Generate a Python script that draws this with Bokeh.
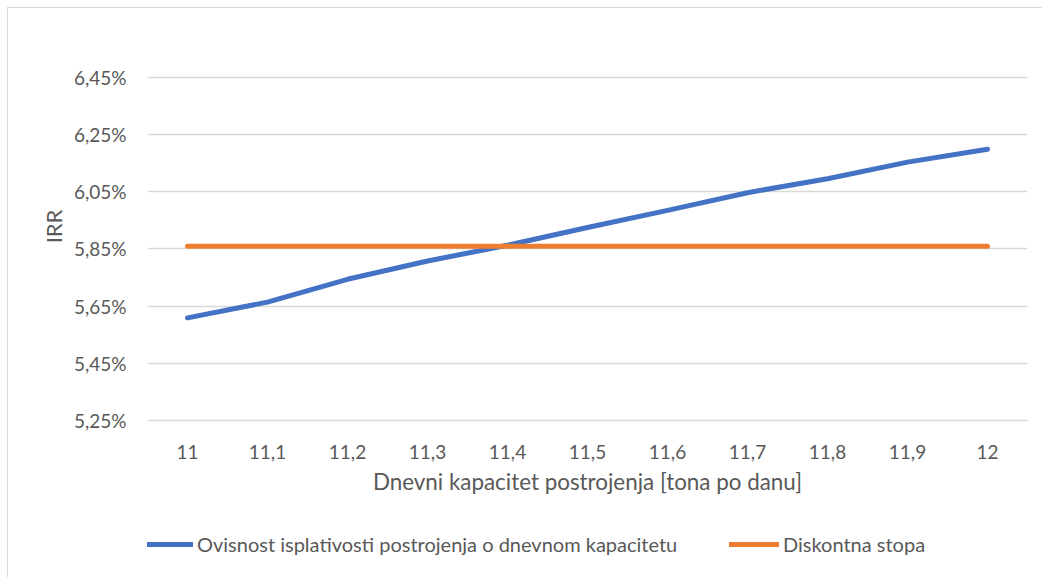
from bokeh.plotting import figure
from bokeh.layouts import column
from bokeh.models import (ColumnDataSource, FactorRange, Range1d, FixedTicker,
                          CustomJSTickFormatter, Legend, LegendItem)
from bokeh.embed import file_html
from bokeh.resources import INLINE

# ---- data ----
capacity = ["11", "11,1", "11,2", "11,3", "11,4", "11,5",
            "11,6", "11,7", "11,8", "11,9", "12"]
irr = [5.609, 5.664, 5.744, 5.808, 5.863, 5.925,
       5.985, 6.047, 6.096, 6.154, 6.199]
discount_rate = [5.86, 5.86, 5.86, 5.86, 5.86, 5.86,
                 5.86, 5.86, 5.86, 5.86, 5.86]
y_ticks = [5.25, 5.45, 5.65, 5.85, 6.05, 6.25, 6.45]
series_names = ["Ovisnost isplativosti postrojenja o dnevnom kapacitetu",
                "Diskontna stopa"]
series_cols = ["irr", "disc"]
series_colors = ["#4472c4", "#ed7d31"]
x_title = "Dnevni kapacitet postrojenja [tona po danu]"
y_title = "IRR"

FONT = "Lato"
GREY_TXT = "#595959"
GRID = "#d9d9d9"

src = ColumnDataSource(dict(x=capacity, irr=irr, disc=discount_rate))

# ---------- main chart ----------
p = figure(width=1034, height=492, output_backend="svg", toolbar_location=None,
           x_range=FactorRange(factors=capacity, range_padding=0),
           y_range=Range1d(5.25, 6.6074),
           min_border_left=139, min_border_right=15,
           min_border_top=24, min_border_bottom=80)
p.outline_line_color = None
p.background_fill_color = "white"
p.border_fill_color = "white"

for col, color in zip(series_cols, series_colors):
    p.line("x", col, source=src, line_color=color, line_width=5,
           line_cap="round", line_join="round")

# y axis
p.yaxis.ticker = FixedTicker(ticks=y_ticks)
p.yaxis.formatter = CustomJSTickFormatter(
    code="return tick.toFixed(2).replace('.', ',') + '%';")
p.yaxis.axis_line_color = None
p.yaxis.major_tick_line_color = None
p.yaxis.minor_tick_line_color = None
p.yaxis.major_label_standoff = 15
p.yaxis.major_label_text_font = FONT
p.yaxis.major_label_text_font_size = "19px"
p.yaxis.major_label_text_color = GREY_TXT
p.yaxis.axis_label = y_title
p.yaxis.axis_label_text_font = FONT
p.yaxis.axis_label_text_font_size = "22px"
p.yaxis.axis_label_text_font_style = "normal"
p.yaxis.axis_label_text_color = GREY_TXT
p.yaxis.axis_label_standoff = 4

# x axis
p.xaxis.axis_line_color = GRID
p.xaxis.axis_line_width = 1.5
p.xaxis.major_tick_line_color = None
p.xaxis.minor_tick_line_color = None
p.xaxis.major_label_standoff = 18
p.xaxis.major_label_text_font = FONT
p.xaxis.major_label_text_font_size = "19px"
p.xaxis.major_label_text_color = GREY_TXT
p.xaxis.axis_label = x_title
p.xaxis.axis_label_text_font = FONT
p.xaxis.axis_label_text_font_size = "22.4px"
p.xaxis.axis_label_text_font_style = "normal"
p.xaxis.axis_label_text_color = GREY_TXT
p.xaxis.axis_label_standoff = 6

p.xgrid.grid_line_color = None
p.ygrid.grid_line_color = GRID
p.ygrid.grid_line_width = 1.5

# ---------- legend strip (frame is aligned with the main chart's frame) ----------
lg = figure(width=1034, height=77, output_backend="svg", toolbar_location=None,
            x_range=FactorRange(factors=capacity, range_padding=0),
            y_range=Range1d(0, 1),
            x_axis_type=None, y_axis_type=None,
            min_border_left=139, min_border_right=15,
            min_border_top=0, min_border_bottom=0)
lg.outline_line_color = None
lg.grid.grid_line_color = None
lg.border_fill_color = "white"

legend_x = [-4, 582]
for name, col, color, lx in zip(series_names, series_cols, series_colors, legend_x):
    # same data as the chart; it lies outside this strip's y range, so only
    # the legend swatch is visible
    r = lg.line("x", col, source=src, line_color=color, line_width=5,
                line_cap="round")
    leg = Legend(items=[LegendItem(label=name, renderers=[r])],
                 location=(lx, 21), orientation="horizontal",
                 border_line_color=None, background_fill_alpha=0,
                 padding=0, margin=0,
                 glyph_width=50, glyph_height=20, label_height=20,
                 label_standoff=4,
                 label_text_font=FONT, label_text_font_size="20px",
                 label_text_color=GREY_TXT)
    lg.add_layout(leg, "center")

layout = column(p, lg, spacing=0)
layout.styles = {"margin-left": "7px", "margin-top": "7px",
                 "border-left": "1px solid #d9d9d9",
                 "border-top": "1px solid #d9d9d9"}

open("out.html", "w").write(file_html(layout, INLINE))
